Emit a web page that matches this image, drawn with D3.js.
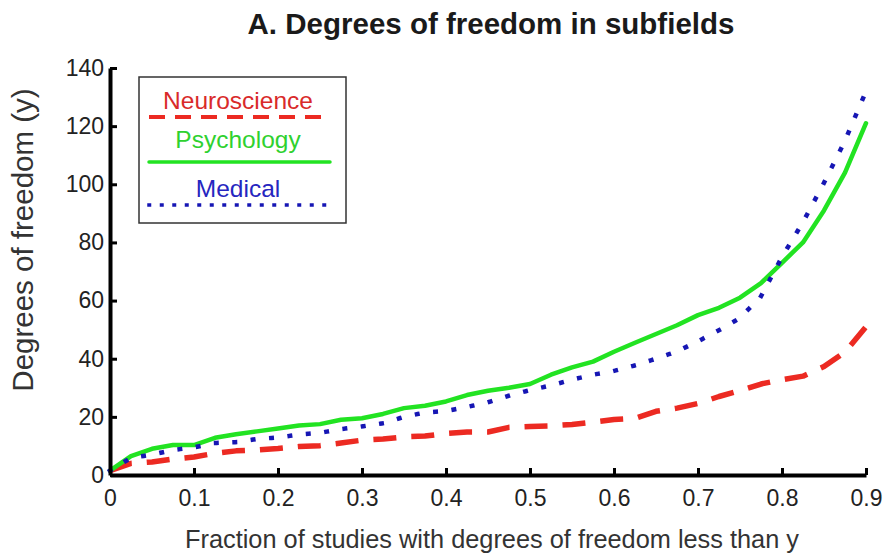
<!DOCTYPE html>
<html>
<head>
<meta charset="utf-8">
<script src="https://cdn.jsdelivr.net/npm/d3@7"></script>
<style>
  html, body { margin: 0; padding: 0; background: #fff; }
  svg { display: block; font-family: "Liberation Sans", Arial, Helvetica, sans-serif; }
</style>
</head>
<body>
<svg id="chart" width="887" height="558"></svg>
<script>
// Fraction of studies (x) at which each curve is sampled
const fractions = [0, 0.025, 0.05, 0.075, 0.1, 0.125, 0.15, 0.175, 0.2, 0.225, 0.25, 0.275,
  0.3, 0.325, 0.35, 0.375, 0.4, 0.425, 0.45, 0.475, 0.5, 0.525, 0.55, 0.575,
  0.6, 0.625, 0.65, 0.675, 0.7, 0.725, 0.75, 0.775, 0.8, 0.825, 0.85, 0.875, 0.9];

// Degrees of freedom below which that fraction of studies falls
const neuroscience = [1.5, 4, 4.5, 5.5, 6.2, 7.5, 8.3, 8.6, 9.1, 9.8, 10.1, 11,
  12, 12.4, 13.1, 13.4, 14.3, 14.8, 14.8, 16.4, 16.7, 16.9, 17.4, 18.2,
  19.1, 19.5, 21.9, 23, 24.6, 27, 29, 31.3, 32.8, 34, 37.3, 42.3, 51];

const psychology = [1.5, 6.5, 9, 10.3, 10.3, 12.8, 14, 15, 16, 17, 17.5, 19,
  19.5, 21, 23, 23.8, 25.3, 27.5, 29, 30, 31.3, 34.5, 37, 39,
  42.4, 45.5, 48.5, 51.5, 55, 57.5, 61, 66, 73, 80, 91, 104, 121];

const medical = [1.5, 5.9, 7, 8.6, 9.5, 11, 11.3, 12.4, 12.9, 13.9, 14.5, 15.8,
  16.7, 17.8, 20, 21.5, 22, 23.4, 25, 27.3, 29.2, 30.8, 32.8, 34.5,
  35.8, 37.7, 40, 42.5, 46, 49.8, 54, 61.5, 75, 87, 100.5, 115, 132];

const seriesNames = ["Neuroscience", "Psychology", "Medical"];
const xTicks = [0, 0.1, 0.2, 0.3, 0.4, 0.5, 0.6, 0.7, 0.8, 0.9];
const yTicks = [0, 20, 40, 60, 80, 100, 120, 140];

const titleText = "A. Degrees of freedom in subfields";
const xLabel = "Fraction of studies with degrees of freedom less than y";
const yLabel = "Degrees of freedom (y)";

// Visual style of each series (MATLAB-like 'r--', 'g-', 'b:')
const styles = [
  { line: "#ec2a22", text: "#d92a2a", dash: "23 15", cap: "butt", width: 5.5 },
  { line: "#22e322", text: "#2fd12f", dash: null, cap: "round", width: 4.5 },
  { line: "#1616b4", text: "#2626c0", dash: "0.5 18", cap: "square", width: 4.5 }
];

const svg = d3.select("#chart");
const plot = { left: 110, right: 866, top: 68, bottom: 475 };

const x = d3.scaleLinear().domain([0, 0.9]).range([plot.left, plot.right]);
const y = d3.scaleLinear().domain([0, 140]).range([plot.bottom, plot.top]);

// Title
svg.append("text")
  .attr("x", 491).attr("y", 34)
  .attr("text-anchor", "middle")
  .attr("font-size", 29.5).attr("font-weight", "bold")
  .attr("fill", "#1a1a1a")
  .text(titleText);

// Curves
const data = [neuroscience, psychology, medical];
const line = d3.line()
  .x((d, i) => x(fractions[i]))
  .y(d => y(d));

data.forEach((vals, k) => {
  const s = styles[k];
  const p = svg.append("path")
    .datum(vals)
    .attr("d", line)
    .attr("fill", "none")
    .attr("stroke", s.line)
    .attr("stroke-width", s.width)
    .attr("stroke-linecap", s.cap)
    .attr("stroke-linejoin", "round");
  if (s.dash) p.attr("stroke-dasharray", s.dash);
});

// Axes (ticks pointing inward, no box)
const fmtX = d => d === 0 ? "0" : d3.format(".1f")(d);
const xAxis = svg.append("g")
  .attr("transform", `translate(0,${plot.bottom})`)
  .call(d3.axisBottom(x).tickValues(xTicks).tickFormat(fmtX)
    .tickSizeInner(-7).tickSizeOuter(0).tickPadding(15));

const yAxis = svg.append("g")
  .attr("transform", `translate(${plot.left},0)`)
  .call(d3.axisLeft(y).tickValues(yTicks)
    .tickSizeInner(-7).tickSizeOuter(0).tickPadding(6));

[xAxis, yAxis].forEach(g => {
  g.select(".domain").attr("stroke", "#000").attr("stroke-width", 4);
  g.selectAll(".tick line").attr("stroke", "#000").attr("stroke-width", 3);
  g.selectAll(".tick text")
    .attr("font-size", 23)
    .attr("fill", "#222")
    .attr("font-family", "\"Liberation Sans\", Arial, sans-serif");
});

// Axis titles
svg.append("text")
  .attr("x", 492).attr("y", 548)
  .attr("text-anchor", "middle")
  .attr("font-size", 26)
  .attr("fill", "#333")
  .attr("textLength", 614)
  .attr("lengthAdjust", "spacingAndGlyphs")
  .text(xLabel);

svg.append("text")
  .attr("transform", "translate(33,240) rotate(-90)")
  .attr("text-anchor", "middle")
  .attr("font-size", 29.5)
  .attr("fill", "#333")
  .text(yLabel);

// Legend
const legend = svg.append("g");
legend.append("rect")
  .attr("x", 139).attr("y", 77)
  .attr("width", 207).attr("height", 146)
  .attr("fill", "#fff")
  .attr("stroke", "#333").attr("stroke-width", 1.5);

const legendTextY = [109, 148, 197];
const legendLineY = [117, 162, 205];
seriesNames.forEach((name, k) => {
  const s = styles[k];
  legend.append("text")
    .attr("x", 238).attr("y", legendTextY[k])
    .attr("text-anchor", "middle")
    .attr("font-size", 24.5)
    .attr("fill", s.text)
    .text(name);
  const l = legend.append("line")
    .attr("x1", 149).attr("x2", 330)
    .attr("y1", legendLineY[k]).attr("y2", legendLineY[k])
    .attr("stroke", s.line)
    .attr("stroke-width", k === 0 ? 4 : 3.5)
    .attr("stroke-linecap", s.cap);
  if (k === 0) l.attr("stroke-dasharray", "16 10");
  if (k === 2) l.attr("stroke-dasharray", "0.5 12");
});
</script>
</body>
</html>
